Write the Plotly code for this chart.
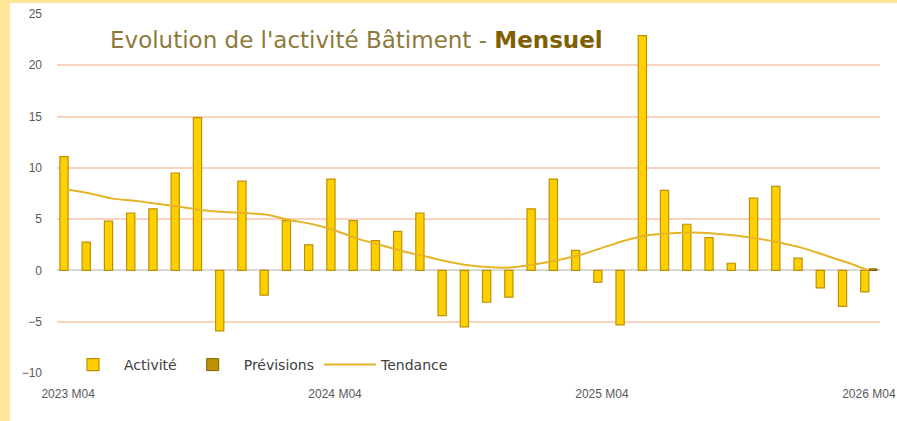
import plotly.graph_objects as go

categories = [
    "2023 M04", "2023 M05", "2023 M06", "2023 M07", "2023 M08", "2023 M09",
    "2023 M10", "2023 M11", "2023 M12", "2024 M01", "2024 M02", "2024 M03",
    "2024 M04", "2024 M05", "2024 M06", "2024 M07", "2024 M08", "2024 M09",
    "2024 M10", "2024 M11", "2024 M12", "2025 M01", "2025 M02", "2025 M03",
    "2025 M04", "2025 M05", "2025 M06", "2025 M07", "2025 M08", "2025 M09",
    "2025 M10", "2025 M11", "2025 M12", "2026 M01", "2026 M02", "2026 M03",
    "2026 M04",
]

activite = [
    11.1, 2.75, 4.8, 5.6, 6.0, 9.5, 14.9, -5.9, 8.7, -2.4, 4.85, 2.5,
    8.9, 4.85, 2.9, 3.8, 5.6, -4.4, -5.5, -3.1, -2.6, 6.0, 8.9, 1.95,
    -1.15, -5.3, 22.9, 7.8, 4.5, 3.2, 0.7, 7.05, 8.2, 1.2, -1.7, -3.5,
    -2.1,
]

previsions = [None] * 36 + [0.15]

tendance = [
    7.9, 7.5, 7.0, 6.8, 6.5, 6.2, 5.9, 5.7, 5.6, 5.4, 4.9, 4.5,
    3.9, 3.1, 2.5, 1.9, 1.4, 0.9, 0.5, 0.3, 0.3, 0.6, 1.0, 1.5,
    2.2, 2.9, 3.4, 3.6, 3.7, 3.6, 3.4, 3.1, 2.7, 2.2, 1.5, 0.8,
    0.0,
]

shown_ticks = ["2023 M04", "2024 M04", "2025 M04", "2026 M04"]
y_ticks = [-10, -5, 0, 5, 10, 15, 20, 25]

W, H = 897, 421
ML, MR, MT, MB = 57, 17, 14, 48
PW, PH = W - ML - MR, H - MT - MB

def px_x(p):
    return (p - ML) / PW

def px_y(p):
    return (H - MB - p) / PH

fig = go.Figure()
fig.add_trace(go.Bar(
    x=categories, y=activite, name="Activité",
    marker=dict(color="#FFD000", line=dict(color="#C09000", width=1.2)),
))
fig.add_trace(go.Bar(
    x=categories, y=previsions, name="Prévisions",
    marker=dict(color="#BF9000", line=dict(color="#7F6000", width=1)),
))
fig.add_trace(go.Scatter(
    x=categories, y=tendance, name="Tendance", mode="lines",
    line=dict(color="#E6B428", width=2, shape="spline", smoothing=0.6),
))

fig.update_layout(
    width=W, height=H,
    margin=dict(l=ML, r=MR, t=MT, b=MB, autoexpand=False),
    paper_bgcolor="white", plot_bgcolor="white",
    barmode="group", bargap=0.26, bargroupgap=0.0,
    font=dict(family="Liberation Sans, Arial, sans-serif", color="#595959"),
    showlegend=True,
    legend=dict(
        orientation="h", x=px_x(62), xanchor="left",
        y=px_y(365), yanchor="middle",
        bgcolor="rgba(0,0,0,0)",
        font=dict(family="DejaVu Sans, sans-serif", size=14, color="#404040"),
        itemwidth=52, traceorder="normal",
    ),
    xaxis=dict(
        type="category", range=[-0.5, 36.5], automargin=False,
        tickmode="array", tickvals=shown_ticks, ticktext=shown_ticks,
        showgrid=False, showline=False, ticks="",
        tickfont=dict(size=12, color="#595959",
                      family="Liberation Sans Narrow, Liberation Sans, Arial, sans-serif"),
        ticklabelstandoff=12,
    ),
    yaxis=dict(
        range=[-10, 25], tickmode="array", tickvals=y_ticks, automargin=False,
        showgrid=True, gridcolor="#F8D3C0", gridwidth=1.5,
        zeroline=True, zerolinecolor="#D9D9D9", zerolinewidth=2,
        showline=False, ticks="",
        tickfont=dict(size=12, color="#595959"),
        ticklabelstandoff=14,
    ),
    shapes=[
        dict(type="rect", xref="paper", yref="paper", layer="below",
             x0=px_x(0), x1=px_x(10), y0=px_y(H), y1=px_y(0),
             fillcolor="#FFE699", line=dict(width=0)),
        dict(type="rect", xref="paper", yref="paper", layer="below",
             x0=px_x(0), x1=px_x(W), y0=px_y(3), y1=px_y(0),
             fillcolor="#FFE699", line=dict(width=0)),
    ],
    annotations=[
        dict(
            xref="paper", yref="paper", x=px_x(108), y=px_y(40),
            xanchor="left", yanchor="middle", showarrow=False,
            text="<span style='color:#8C7A3C'>Evolution de l'activité Bâtiment - </span>"
                 "<b><span style='color:#7F6000'>Mensuel</span></b>",
            font=dict(family="DejaVu Sans, sans-serif", size=23),
        ),
    ],
)

fig.write_html(
    "out.html",
    config={"displayModeBar": False},
    post_script="document.body.style.margin='0';document.body.style.padding='0';",
)
